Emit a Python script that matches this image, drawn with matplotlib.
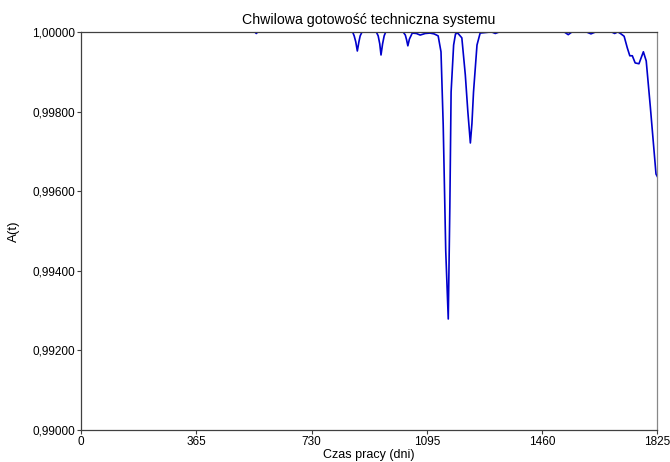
import matplotlib
matplotlib.use("Agg")
import matplotlib.pyplot as plt
from matplotlib.ticker import FuncFormatter

# czas pracy (dni) i chwilowa gotowosc A(t)
t_days = [0, 550, 555, 560, 860, 865, 870, 875, 880, 884, 890, 935, 941, 946,
          950, 955, 960, 965, 1020, 1027, 1031, 1035, 1040, 1046, 1049, 1062,
          1074, 1090, 1105, 1118, 1131, 1140, 1147, 1155, 1163, 1168, 1172,
          1180, 1186, 1193, 1206, 1217, 1225, 1233, 1238, 1243, 1254, 1264,
          1300, 1312, 1325, 1400, 1530, 1543, 1555, 1600, 1615, 1630, 1680,
          1690, 1700, 1710, 1720, 1730, 1738, 1746, 1755, 1767, 1781, 1790,
          1803, 1821, 1825]
avail = [1.0, 1.0, 0.99996, 1.0, 1.0, 0.99990, 0.99975, 0.99952, 0.99975,
         0.99990, 1.0, 1.0, 0.99990, 0.99970, 0.99942, 0.99970, 0.99990, 1.0,
         1.0, 0.99992, 0.99980, 0.99965, 0.99982, 0.99992, 0.99997, 0.99996,
         0.99992, 0.99996, 0.99997, 0.99995, 0.99990, 0.99950, 0.99766,
         0.99450, 0.99279, 0.99560, 0.99849, 0.99967, 0.99995, 0.99997,
         0.99985, 0.99892, 0.99800, 0.99721, 0.99770, 0.99849, 0.99967,
         0.99997, 1.0, 0.99996, 1.0, 1.0, 1.0, 0.99993, 1.0, 1.0, 0.99995,
         1.0, 1.0, 0.99996, 1.0, 0.99995, 0.99989, 0.99960, 0.99940, 0.99940,
         0.99922, 0.99920, 0.99950, 0.99927, 0.99812, 0.99643, 0.99637]

x_ticks = [0, 365, 730, 1095, 1460, 1825]
y_ticks = [0.990, 0.992, 0.994, 0.996, 0.998, 1.000]

plt.rcParams['font.family'] = ['Liberation Sans', 'DejaVu Sans']

fig = plt.figure(figsize=(6.70, 4.62), dpi=100)
ax = fig.add_axes([0.121, 0.069, 0.860, 0.862])

ax.plot(t_days, avail, color='#0000cc', lw=1.2)

ax.set_xlim(0, 1825)
ax.set_ylim(0.990, 1.000)
ax.set_xticks(x_ticks)
ax.set_yticks(y_ticks)
ax.yaxis.set_major_formatter(FuncFormatter(lambda v, p: f"{v:.5f}".replace('.', ',')))
ax.tick_params(labelsize=8.5, length=3, width=0.8, color='#404040', pad=1)

for name, sp in ax.spines.items():
    sp.set_linewidth(0.9)
    sp.set_color('#404040')
ax.spines['right'].set_color('#888888')

ax.set_title("Chwilowa gotowość techniczna systemu", fontsize=10.2, pad=6)
ax.set_xlabel("Czas pracy (dni)", fontsize=9, labelpad=1)
ax.set_ylabel("A(t)", fontsize=9.5, labelpad=9)

fig.savefig("out.png", dpi=100)
